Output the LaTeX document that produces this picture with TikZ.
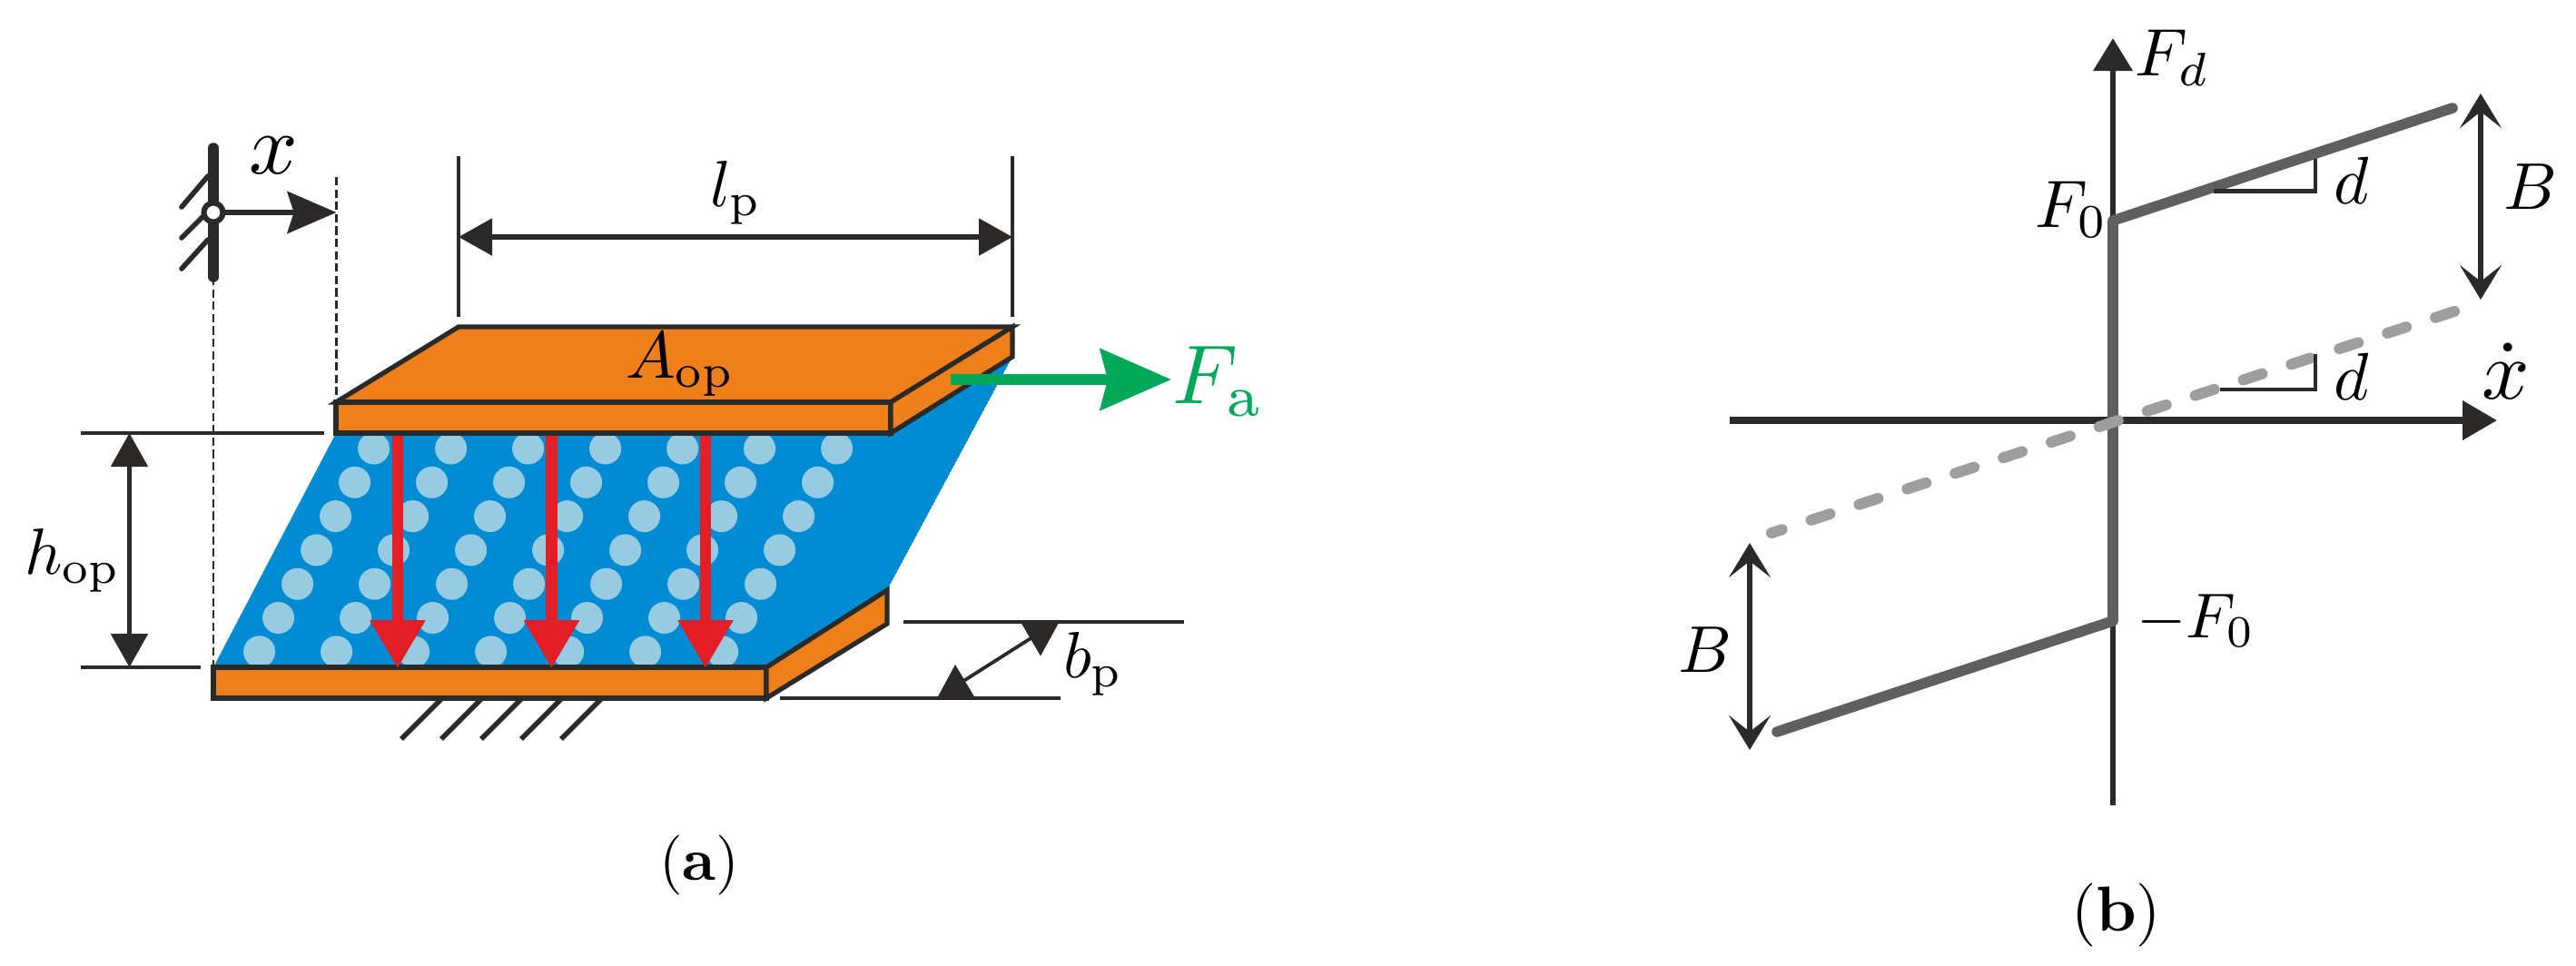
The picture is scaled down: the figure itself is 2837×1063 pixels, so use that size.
\documentclass[tikz,border=0pt]{standalone}
\usetikzlibrary{arrows.meta}
\definecolor{ink}{HTML}{2B2A29}
\definecolor{plate}{HTML}{EF7F1A}
\definecolor{fluid}{HTML}{008BD2}
\definecolor{dotc}{HTML}{96CBE1}
\definecolor{redc}{HTML}{E31E24}
\definecolor{greenc}{HTML}{00A859}
\definecolor{midgrey}{HTML}{5F5F5F}
\definecolor{lightgrey}{HTML}{9D9E9E}
\tikzset{
  lbl/.style={inner sep=0pt,outer sep=0pt,anchor=base west,text=black},
  platebox/.style={fill=plate,draw=ink,line width=1.3pt,line join=miter},
  dimthin/.style={draw=ink,line width=1.15pt},
  dashthin/.style={draw=ink,line width=.7pt,dash pattern=on 2.3pt off 1.1pt},
  dimarrow/.style={draw=ink,line width=1.35pt,{Stealth[length=9.25pt,width=10pt,inset=0pt]}-{Stealth[length=9.25pt,width=10pt,inset=0pt]}},
  rarrow/.style={draw=redc,line width=3.1pt,-{Stealth[length=13.25pt,width=14.5pt,inset=0pt]}},
  hatchline/.style={draw=ink,line width=1.4pt},
  axisline/.style={draw=ink,line width=1.8pt},
  curve/.style={draw=midgrey,line width=2.9pt,line cap=round},
  opendim/.style={draw=ink,line width=1.3pt,{Stealth[length=9.5pt,width=11.5pt,inset=4.5pt]}-{Stealth[length=9.5pt,width=11.5pt,inset=4.5pt]}},
  slope/.style={draw=ink,line width=1.15pt,line join=miter},
}
\begin{document}
\begin{tikzpicture}[x=.25pt,y=-.25pt]
\useasboundingbox (0,0) rectangle (2837,1063);
% ---------- panel (a): fluid ----------
\coordinate (tfl) at (370,477);
\coordinate (tfr) at (981,477);
\coordinate (tbr) at (1115,393);
\coordinate (bbr) at (977,650);
\coordinate (bfr) at (844,735);
\coordinate (bfl) at (235,735);
\begin{scope}
\clip (tfl)--(tfr)--(tbr)--(bbr)--(bfr)--(bfl)--cycle;
\fill[fluid] (tfl)--(tfr)--(tbr)--(bbr)--(bfr)--(bfl)--cycle;
\foreach \r in {0,...,6}{\foreach \i in {0,...,6}{
  \fill[dotc] ({411.6+85*\i-21*\r},{494+37.3*\r}) circle[radius=17.5];
}}
\end{scope}
% ---------- plates ----------
\draw[platebox] (bfl) rectangle (844,769);
\draw[platebox] (bfr)--(bbr)--(977,687)--(844,769)--cycle;
\draw[platebox] (505,360)--(1115,360)--(981,443)--(370,443)--cycle;
\draw[platebox] (370,443) rectangle (tfr);
\draw[platebox] (981,443)--(1115,360)--(1115,393)--(981,477)--cycle;
% ---------- ground hatch ----------
\foreach \xx in {442,486,530,574,618}{
  \draw[hatchline] (\xx,814)--({\xx+44},770);
}
% ---------- wall and x arrow ----------
\draw[dashthin] (235,305)--(bfl);
\draw[dashthin] (370.5,195)--(370.5,443);
\coordinate (walltop) at (235,163);
\coordinate (wallbot) at (235,305);
\coordinate (pivot) at (235,234);
\coordinate (xtip) at (370.5,234);
\draw[draw=ink,line width=2.9pt,line cap=round] (walltop)--(wallbot);
\draw[hatchline,line cap=round] (229,194)--(200,228);
\draw[hatchline,line cap=round] (226,236)--(200,262);
\draw[hatchline,line cap=round] (229,264)--(200,296);
\draw[draw=ink,line width=1.6pt,-{Stealth[length=13.5pt,width=11.5pt,inset=1.8pt]}] (pivot)--(xtip);
\node[circle,draw=ink,fill=white,line width=1.5pt,inner sep=0pt,minimum size=5.25pt] (piv) at (pivot) {};
\node[lbl,scale=2.35] (lx) at (274.5,191.5) {$x$};
% ---------- l_p ----------
\coordinate (lpa) at (505,261);
\coordinate (lpb) at (1115,261);
\draw[dimthin] (505,172)--(505,349);
\draw[dimthin] (1115,172)--(1115,349);
\draw[dimarrow] (lpa)--(lpb);
\node[lbl,scale=1.8] (llp) at (782,227) {$l_{\mathrm{p}}$};
% ---------- h_op ----------
\coordinate (hoa) at (142.5,477);
\coordinate (hob) at (142.5,735);
\draw[dimthin] (89,477)--(357,477);
\draw[dimthin] (89,735)--(221,735);
\draw[dimarrow] (hoa)--(hob);
\node[lbl,scale=1.8] (lho) at (27,632) {$h_{\mathrm{op}}$};
% ---------- A_op ----------
\node[lbl,scale=1.83] (lao) at (689,416) {$A_{\mathrm{op}}$};
% ---------- red arrows ----------
\foreach \xx in {438,607.5,777}{
  \draw[rarrow] (\xx,480)--(\xx,736);
}
% ---------- green F_a ----------
\coordinate (fas) at (1047,418);
\coordinate (fat) at (1290,418);
\draw[draw=greenc,line width=2.9pt,-{Stealth[length=19.5pt,width=16.7pt,inset=2pt]}] (fas)--(fat);
\node[lbl,scale=2.3,text=greenc] (lfa) at (1291,444.5) {$F_{\mathrm{a}}$};
% ---------- b_p ----------
\draw[dimthin] (995,685)--(1304,685);
\draw[dimthin] (859,769)--(1168,769);
\coordinate (bpa) at (1140,700);
\coordinate (bpb) at (1058,752);
\draw[draw=ink,line width=.95pt] (bpa)--(bpb);
\fill[ink] (1124,685)--(1166.5,685)--(1146,722.5)--cycle;
\fill[ink] (1052,732)--(1032,769)--(1074,769)--cycle;
\node[lbl,scale=1.8] (lbp) at (1171,746) {$b_{\mathrm{p}}$};
% ---------- caption a ----------
\node[lbl,scale=1.65] (capa) at (726,969) {(\textbf{a})};
% ---------- panel (b) ----------
\coordinate (ytip) at (2327,42);
\coordinate (ybot) at (2327,887);
\coordinate (xl) at (1905,463);
\coordinate (xr) at (2750,463);
\coordinate (pf) at (2327,243);
\coordinate (nf) at (2327,684);
\coordinate (ue) at (2701,119);
\coordinate (le) at (1957,806);
\coordinate (dr) at (2703,343);
\coordinate (dl) at (1951,587);
\draw[draw=ink,line width=1.7pt,-{Stealth[length=9pt,width=10.5pt,inset=0pt]}] (ybot)--(ytip);
\draw[axisline,-{Stealth[length=9.5pt,width=10.5pt,inset=0pt]}] (xl)--(xr);
\draw[draw=midgrey,line width=2.8pt] (pf)--(nf);
\draw[draw=lightgrey,line width=3pt,line cap=round,dash pattern=on 5.5pt off 8.4pt] (dr)--(dl);
\draw[curve] (pf)--(ue);
\draw[curve] (nf)--(le);
% slope triangles
\draw[slope] (2438,210.5)--(2550,210.5)--(2550,175);
\draw[slope] (2445,429)--(2550,429)--(2550,390);
\node[lbl,scale=1.85] (ld1) at (2570.5,224) {$d$};
\node[lbl,scale=1.85] (ld2) at (2570.5,440) {$d$};
% B arrows
\coordinate (b1a) at (2732,103);
\coordinate (b1b) at (2732,330);
\coordinate (b2a) at (1927,598);
\coordinate (b2b) at (1927,826);
\draw[opendim] (b1a)--(b1b);
\draw[opendim] (b2a)--(b2b);
\node[lbl,scale=1.82] (lb1) at (2757.5,230) {$B$};
\node[lbl,scale=1.82] (lb2) at (1848,740) {$B$};
% labels
\node[lbl,scale=1.85] (lfd) at (2351.5,83) {$F_d$};
\node[lbl,scale=1.85] (lf0) at (2241,250.5) {$F_0$};
\node[lbl,scale=1.75] (lmf) at (2353.5,702) {$-F_0$};
\node[lbl,scale=2.3] (lxd) at (2733,439) {$\dot{x}$};
\node[lbl,scale=1.75] (capb) at (2281,1025) {(\textbf{b})};
\end{tikzpicture}
\end{document}
